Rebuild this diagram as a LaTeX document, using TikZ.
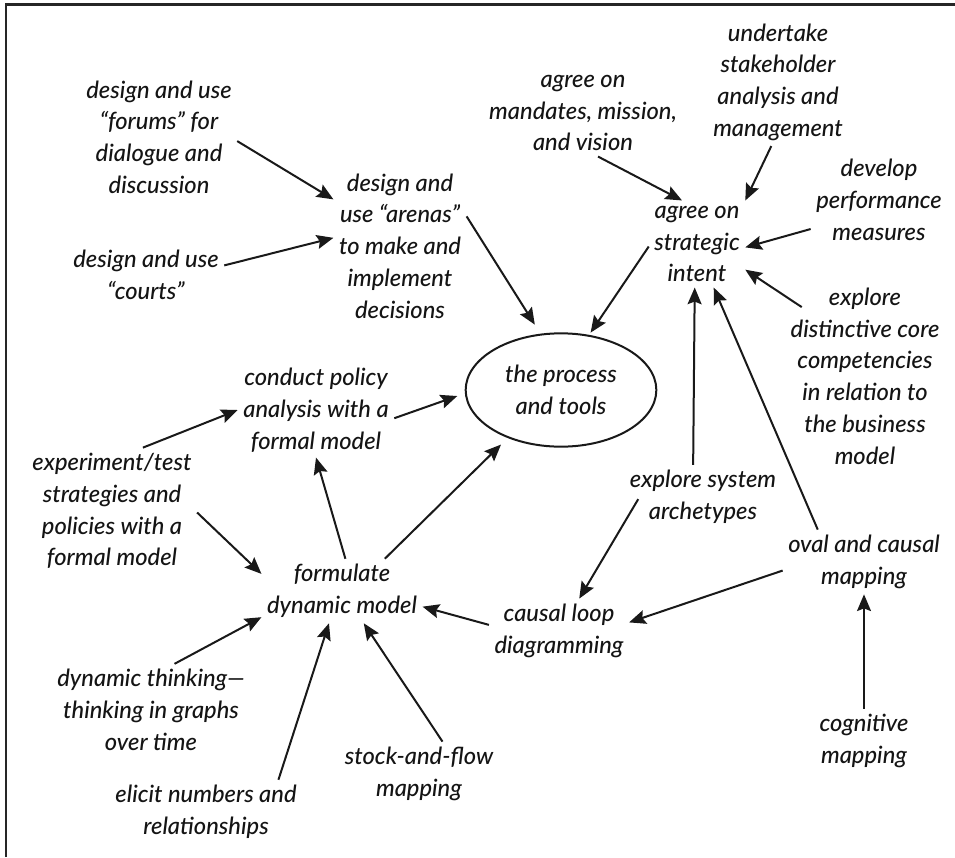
\documentclass[tikz,border=0pt]{standalone}
\usepackage{fontspec}
\setmainfont{Lato}[ItalicFont={Lato Medium Italic}]
\usetikzlibrary{arrows.meta,shapes.geometric}

\begin{document}
\begin{tikzpicture}[x=0.75pt,y=-0.75pt,
  txt/.style={align=center, inner sep=4pt, text=black!92,
              font=\fontsize{17.8}{23.8}\selectfont\itshape},
  hub/.style={txt, draw=black!90, ellipse, line width=1.5pt, inner sep=0pt,
              minimum width=143pt, minimum height=85pt},
  arr/.style={-{Stealth[length=12.5pt,width=10.5pt,inset=2pt]}, line width=1.5pt, draw=black!90},
]
\useasboundingbox (0,0) rectangle (955,857);
\draw[line width=2.2pt, black!85] (6,857) -- (6,4.5) -- (955,4.5);

\node[hub] (process) at (561,390) {the process\\and tools};
\node[txt] (forums) at (159,137) {design and use\\“forums” for\\dialogue and\\discussion};
\node[txt] (courts) at (146,275) {design and use\\“courts”};
\node[txt] (arenas) at (400,246) {design and\\use “arenas”\\to make and\\implement\\decisions};
\node[txt] (mandates) at (583,113) {agree on\\mandates, mission,\\and vision};
\node[txt] (stake) at (778,82) {undertake\\stakeholder\\analysis and\\management};
\node[txt] (measures) at (879,200) {develop\\performance\\measures};
\node[txt] (intent) at (697,244) {agree on\\strategic\\intent};
\node[txt] (core) at (865,376) {explore\\distinctive core\\competencies\\in relation to\\the business\\model};
\node[txt] (policy) at (316,410) {conduct policy\\analysis with a\\formal model};
\node[txt] (experiment) at (112,511) {experiment/test\\strategies and\\policies with a\\formal model};
\node[txt] (dynmodel) at (342,591) {formulate\\dynamic model};
\node[txt] (thinking) at (151,710) {dynamic thinking—\\thinking in graphs\\over time};
\node[txt] (elicit) at (206,812) {elicit numbers and\\relationships};
\node[txt] (stock) at (419,774) {stock-and-flow\\mapping};
\node[txt] (loop) at (559,631) {causal loop\\diagramming};
\node[txt] (archetypes) at (703,497) {explore system\\archetypes};
\node[txt] (ovalmap) at (864,562) {oval and causal\\mapping};
\node[txt] (cognitive) at (864,741) {cognitive\\mapping};

\draw[arr] (forums.-3) -- (arenas.145);
\draw[arr] (courts.7) -- (arenas.173);
\draw[arr, shorten >=8pt] (arenas.24) -- (process.110);
\draw[arr, shorten >=2pt] (intent.183) -- (process.63);
\draw[arr] (mandates.-71) -- (intent.109);
\draw[arr] (stake.264) -- (intent.42);
\draw[arr] (measures.203) -- (intent.-4);
\draw[arr, shorten <=-15pt] (core.135) -- (intent.-28);
\draw[arr] (archetypes.107) -- (intent.-93);
\draw[arr] (ovalmap.145) -- (intent.-69);
\draw[arr, shorten >=6pt] (policy.-6) -- (process.182);
\draw[arr] (experiment.64) -- (policy.180);
\draw[arr] (dynmodel.84) -- (policy.-90);
\draw[arr, shorten >=7pt] (dynmodel.37) -- (process.222);
\draw[arr] (experiment.-1) -- (dynmodel.168);
\draw[arr] (thinking.63) -- (dynmodel.198);
\draw[arr] (elicit.24) -- (dynmodel.248);
\draw[arr] (stock.54) -- (dynmodel.-56);
\draw[arr] (loop.175) -- (dynmodel.-11);
\draw[arr, shorten <=30pt] (archetypes.144) -- (loop.58);
\draw[arr] (ovalmap.186) -- (loop.7);
\draw[arr] (cognitive.90) -- (ovalmap.-90);
\end{tikzpicture}
\end{document}
